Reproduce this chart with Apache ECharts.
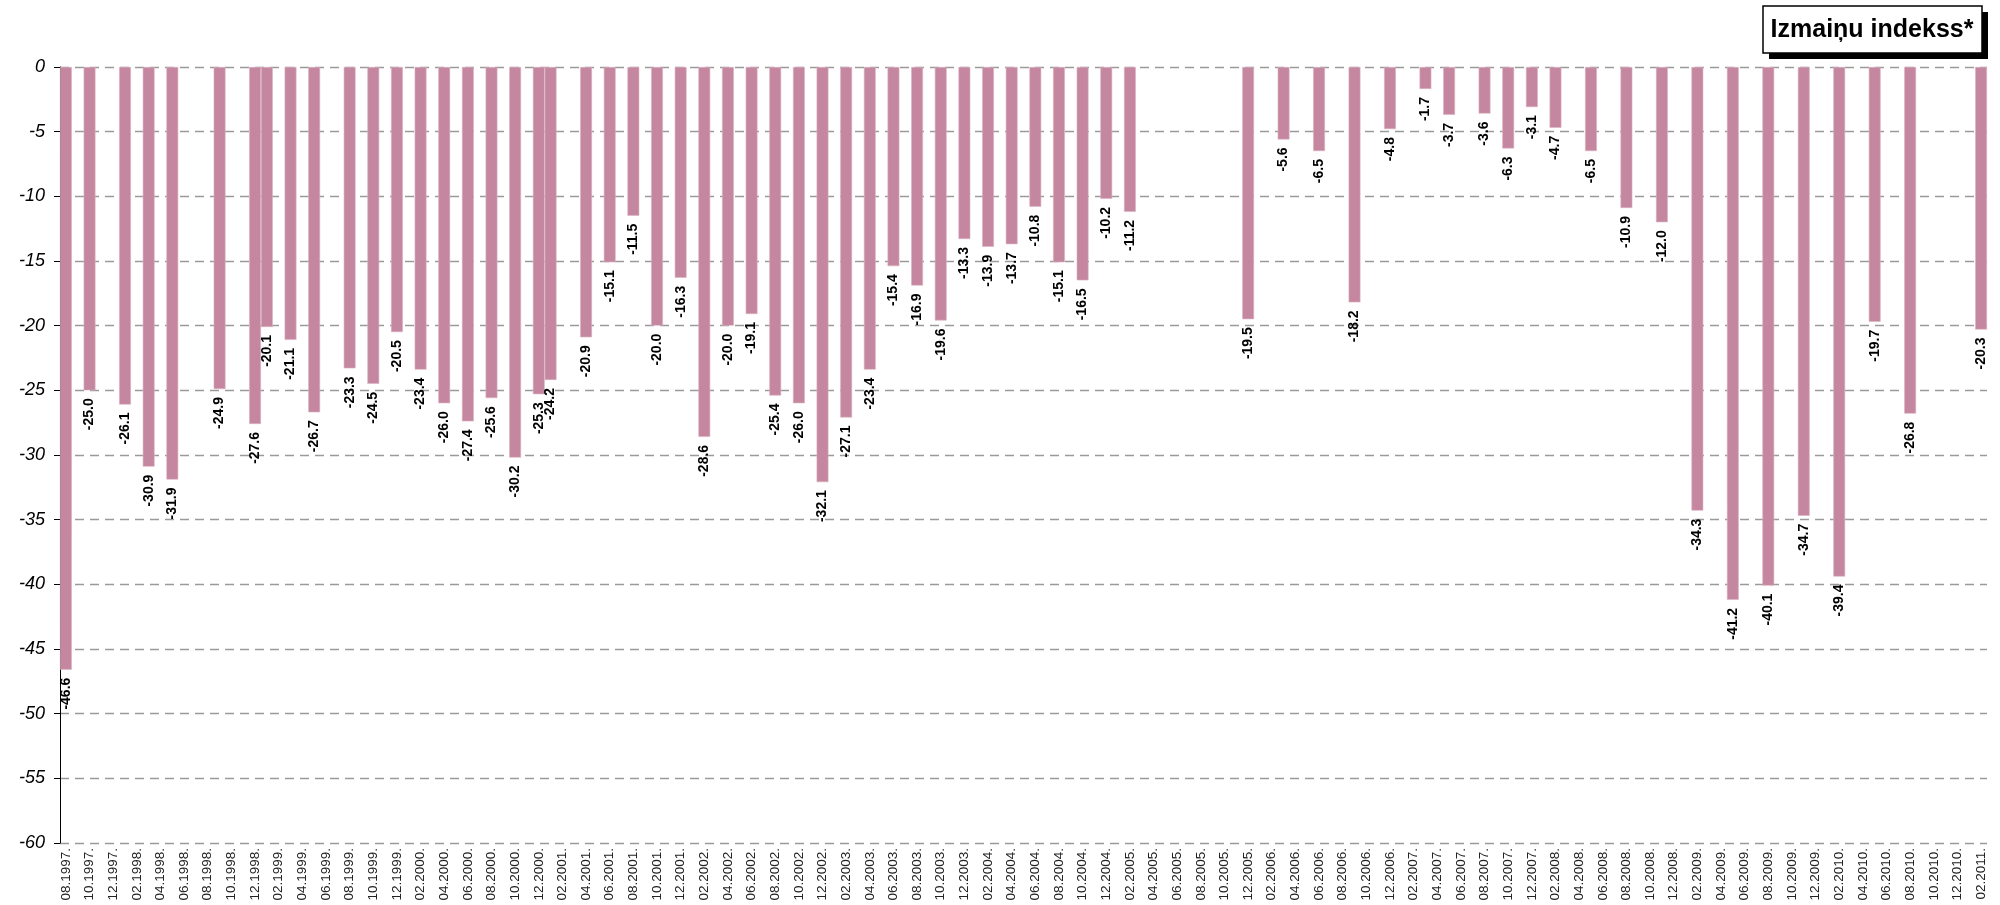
<!DOCTYPE html>
<html>
<head>
<meta charset="utf-8">
<script src="https://cdn.jsdelivr.net/npm/echarts@6/dist/echarts.min.js"></script>
<style>
html,body{margin:0;padding:0;background:#fff;}
#chart{width:2000px;height:905px;}
</style>
</head>
<body>
<div id="chart"></div>
<script>
// Monthly category axis (every month), labels shown every 2nd month
const startYear = 1997, startMonth = 8, endYear = 2011, endMonth = 2;
const categories = [];
for (let y = startYear, m = startMonth; y < endYear || (y === endYear && m <= endMonth); ) {
  categories.push((m < 10 ? '0' + m : '' + m) + '.' + y);
  m++; if (m > 12) { m = 1; y++; }
}

// Months that have an observation and their index values
const barMonths = [
  '08.1997','10.1997','01.1998','03.1998','05.1998','09.1998','12.1998','01.1999','03.1999','05.1999',
  '08.1999','10.1999','12.1999','02.2000','04.2000','06.2000','08.2000','10.2000','12.2000','01.2001',
  '04.2001','06.2001','08.2001','10.2001','12.2001','02.2002','04.2002','06.2002','08.2002','10.2002',
  '12.2002','02.2003','04.2003','06.2003','08.2003','10.2003','12.2003','02.2004','04.2004','06.2004',
  '08.2004','10.2004','12.2004','02.2005','12.2005','03.2006','06.2006','09.2006','12.2006','03.2007',
  '05.2007','08.2007','10.2007','12.2007','02.2008','05.2008','08.2008','11.2008','02.2009','05.2009',
  '08.2009','11.2009','02.2010','05.2010','08.2010','02.2011'
];
const barValues = [
  -46.6,-25.0,-26.1,-30.9,-31.9,-24.9,-27.6,-20.1,-21.1,-26.7,
  -23.3,-24.5,-20.5,-23.4,-26.0,-27.4,-25.6,-30.2,-25.3,-24.2,
  -20.9,-15.1,-11.5,-20.0,-16.3,-28.6,-20.0,-19.1,-25.4,-26.0,
  -32.1,-27.1,-23.4,-15.4,-16.9,-19.6,-13.3,-13.9,-13.7,-10.8,
  -15.1,-16.5,-10.2,-11.2,-19.5,-5.6,-6.5,-18.2,-4.8,-1.7,
  -3.7,-3.6,-6.3,-3.1,-4.7,-6.5,-10.9,-12.0,-34.3,-41.2,
  -40.1,-34.7,-39.4,-19.7,-26.8,-20.3
];

const yTicks = { min: -60, max: 0, interval: 5 };
const titleText = 'Izmaiņu indekss*';

const valueByMonth = {};
barMonths.forEach((mm, i) => { valueByMonth[mm] = barValues[i]; });
const seriesData = categories.map(c => (c in valueByMonth ? valueByMonth[c] : null));

const chart = echarts.init(document.getElementById('chart'), null, { renderer: 'canvas' });
const FONT = '"Liberation Sans", Arial, sans-serif';

chart.setOption({
  animation: false,
  backgroundColor: '#ffffff',
  grid: { left: 60, right: 13, top: 67, bottom: 62, containLabel: false, outerBoundsMode: 'none' },
  xAxis: {
    type: 'category',
    data: categories,
    position: 'bottom',
    axisLine: { show: false, onZero: false },
    axisTick: { show: false },
    splitLine: { show: false },
    axisLabel: {
      interval: 1,
      rotate: 90,
      margin: 5,
      fontFamily: FONT,
      fontSize: 13.5,
      color: '#222',
      formatter: v => v + '.'
    }
  },
  yAxis: {
    type: 'value',
    min: yTicks.min,
    max: yTicks.max,
    interval: yTicks.interval,
    axisLine: { show: true, lineStyle: { color: '#000', width: 1 } },
    axisTick: { show: true, length: 6, lineStyle: { color: '#000' } },
    axisLabel: {
      margin: 15,
      fontFamily: FONT,
      fontSize: 18,
      fontStyle: 'italic',
      color: '#000'
    },
    splitLine: {
      show: true,
      lineStyle: { color: '#9a9a9a', width: 1.3, type: [9, 6] }
    }
  },
  series: [{
    type: 'bar',
    data: seriesData,
    barCategoryGap: '0%',
    itemStyle: { color: '#c4879f', borderColor: '#dcb2c3', borderWidth: 0.6 },
    label: {
      show: true,
      position: 'bottom',
      distance: 8,
      rotate: 90,
      align: 'right',
      verticalAlign: 'middle',
      fontFamily: FONT,
      fontSize: 14,
      fontWeight: 'bold',
      color: '#000',
      formatter: p => (p.value == null ? '' : Number(p.value).toFixed(1))
    }
  }],
  graphic: [
    { type: 'rect', x: 1769, y: 12, z: 10,
      shape: { x: 0, y: 0, width: 219, height: 47 }, style: { fill: '#000' } },
    { type: 'rect', x: 1763, y: 6, z: 11,
      shape: { x: 0, y: 0, width: 219, height: 47 }, style: { fill: '#fff', stroke: '#000', lineWidth: 1.5 } },
    { type: 'text', x: 1872, y: 30, z: 12,
      style: { text: titleText, x: 0, y: 0, align: 'center', verticalAlign: 'middle',
               font: 'bold 25px "Liberation Sans", Arial, sans-serif', fill: '#000' } }
  ]
});
</script>
</body>
</html>
